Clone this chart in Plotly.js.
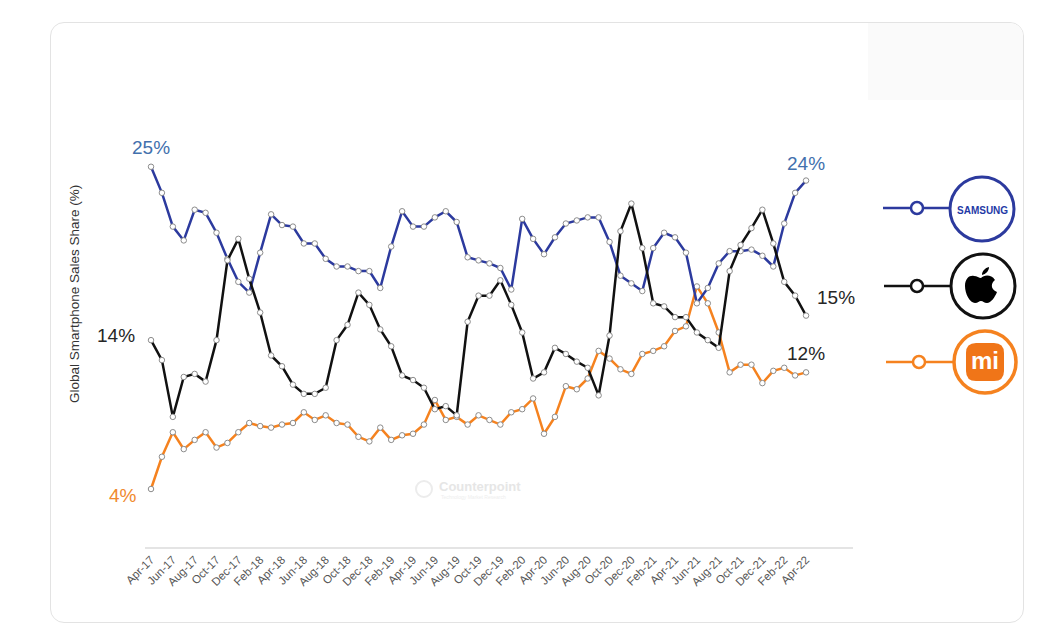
<!DOCTYPE html>
<html><head><meta charset="utf-8">
<script src="https://cdn.plot.ly/plotly-3.0.1.min.js"></script>
<style>
html,body{margin:0;padding:0;background:#ffffff;}
#card{position:absolute;left:50px;top:22px;width:974px;height:601px;border:1px solid #e3e3e3;border-radius:14px;background:#fff;box-sizing:border-box;}
#faint{position:absolute;left:868px;top:23px;width:155px;height:77px;background:#fafafa;border-top-right-radius:13px;}
#chart{position:absolute;left:0;top:0;width:1063px;height:642px;}
</style></head>
<body>
<div id="card"></div><div id="faint"></div>
<div id="chart"></div>
<script>
const months = ['Apr-17','May-17','Jun-17','Jul-17','Aug-17','Sep-17','Oct-17','Nov-17','Dec-17',
'Jan-18','Feb-18','Mar-18','Apr-18','May-18','Jun-18','Jul-18','Aug-18','Sep-18','Oct-18','Nov-18','Dec-18',
'Jan-19','Feb-19','Mar-19','Apr-19','May-19','Jun-19','Jul-19','Aug-19','Sep-19','Oct-19','Nov-19','Dec-19',
'Jan-20','Feb-20','Mar-20','Apr-20','May-20','Jun-20','Jul-20','Aug-20','Sep-20','Oct-20','Nov-20','Dec-20',
'Jan-21','Feb-21','Mar-21','Apr-21','May-21','Jun-21','Jul-21','Aug-21','Sep-21','Oct-21','Nov-21','Dec-21',
'Jan-22','Feb-22','Mar-22','Apr-22'];
const tickLabels = ['Apr-17','Jun-17','Aug-17','Oct-17','Dec-17','Feb-18','Apr-18','Jun-18','Aug-18','Oct-18','Dec-18',
'Feb-19','Apr-19','Jun-19','Aug-19','Oct-19','Dec-19','Feb-20','Apr-20','Jun-20','Aug-20','Oct-20','Dec-20',
'Feb-21','Apr-21','Jun-21','Aug-21','Oct-21','Dec-21','Feb-22','Apr-22'];
const samsung = [25.0,23.3,21.1,20.2,22.2,22.0,20.7,19.0,17.5,16.8,
19.4,21.9,21.2,21.1,20.0,20.0,19.0,18.5,18.5,18.2,
18.2,17.1,19.8,22.1,21.1,21.1,21.7,22.1,21.4,19.1,
18.9,18.7,18.4,17.0,21.6,20.3,19.3,20.4,21.3,21.5,
21.7,21.7,20.1,17.9,17.4,16.9,19.7,20.7,20.4,19.4,
16.1,17.1,18.7,19.5,19.5,19.6,19.2,18.5,21.3,23.3,24.1];
const apple = [13.7,12.4,8.7,11.3,11.5,11.0,13.7,18.9,20.3,17.7,
15.5,12.7,12.0,10.8,10.2,10.2,10.6,13.7,14.7,16.8,
16.0,14.4,13.3,11.4,11.1,10.6,9.2,9.4,8.8,14.9,
16.6,16.6,17.6,16.0,14.2,11.2,11.6,13.2,12.8,12.3,
11.9,10.1,14.0,20.8,22.6,19.7,16.1,15.9,15.2,15.2,
14.2,13.7,13.2,18.2,19.9,21.0,22.2,20.0,17.5,16.6,15.3];
const xiaomi = [4.0,6.1,7.7,6.6,7.2,7.7,6.7,7.0,7.7,8.3,
8.1,8.0,8.2,8.3,9.0,8.5,8.8,8.3,8.2,7.4,
7.1,8.0,7.2,7.5,7.6,8.2,9.8,8.5,8.7,8.2,
8.8,8.5,8.2,9.0,9.2,9.9,7.6,8.7,10.7,10.5,
11.2,13.0,12.5,11.8,11.5,12.8,13.0,13.3,14.3,14.6,
17.2,16.1,14.2,11.6,12.1,12.1,10.9,11.7,11.9,11.4,11.6];
const brands = ['SAMSUNG','Apple','Xiaomi'];
const endLabels = {startSamsung:'25%', startApple:'14%', startXiaomi:'4%', endSamsung:'24%', endApple:'15%', endXiaomi:'12%'};
const yTitle = 'Global Smartphone Sales Share (%)';

const C_SAM = '#2c3a9e', C_APL = '#111111', C_XIA = '#f5821f';
const FONT = 'Liberation Sans, Arial, Helvetica, sans-serif';

// plot-area geometry (pixels) to place decorations
const L = 145, T = 100, W = 708, H = 447;
const px = x => (x - L) / W;
const py = y => (T + H - y) / H;
function pathPx(str, ox, oy) {
  return str.replace(/(-?[\d.]+),(-?[\d.]+)/g, (m, a, b) =>
    px(ox + parseFloat(a)).toFixed(5) + ',' + py(oy + parseFloat(b)).toFixed(5));
}
function circ(cx, cy, r, color, width, fill) {
  return {type:'circle', xref:'paper', yref:'paper', x0:px(cx-r), x1:px(cx+r), y0:py(cy+r), y1:py(cy-r),
          line:{color:color, width:width}, fillcolor:fill, layer:'above'};
}
function hline(x0, x1, y, color) {
  return {type:'line', xref:'paper', yref:'paper', x0:px(x0), x1:px(x1), y0:py(y), y1:py(y),
          line:{color:color, width:2.5}, layer:'above'};
}

function trace(vals, color, name) {
  return {x: months, y: vals, name: name, type:'scatter', mode:'lines+markers',
    line:{color:color, width:2.5},
    marker:{size:5.5, color:'#ffffff', line:{color:'#8c8c8c', width:1}},
    hoverinfo:'skip', cliponaxis:false};
}
const data = [trace(xiaomi, C_XIA, brands[2]), trace(samsung, C_SAM, brands[0]), trace(apple, C_APL, brands[1])];

const appleGlyph = 'M 0,-8 C 3,-11 10,-12 14,-6 C 10,-3 9,3 16,6 C 14,11 10,17 6,17 C 3,17 2,15 0,15 C -2,15 -3,17 -6,17 C -11,17 -16,8 -16,0 C -16,-8 -11,-11 -7,-10 C -4,-10 -2,-8 0,-8 Z M 1,-11 C 1,-15 4,-18 8,-19 C 8,-15 5,-12 1,-11 Z';
const r = 10, h = 19;
const xiaSquare = `M ${-h+r},${-h} L ${h-r},${-h} Q ${h},${-h} ${h},${-h+r} L ${h},${h-r} Q ${h},${h} ${h-r},${h} L ${-h+r},${h} Q ${-h},${h} ${-h},${h-r} L ${-h},${-h+r} Q ${-h},${-h} ${-h+r},${-h} Z`;

const shapes = [
  hline(883, 950, 208, C_SAM), circ(917, 208, 6, C_SAM, 2.5, '#ffffff'), circ(982, 209, 32, C_SAM, 3, '#ffffff'),
  hline(884, 950, 286, C_APL), circ(917, 286, 6, C_APL, 2.5, '#ffffff'), circ(983, 286, 32, C_APL, 3, '#ffffff'),
  {type:'path', xref:'paper', yref:'paper', path: pathPx(appleGlyph, 981, 286), fillcolor:'#000000', line:{width:0}, layer:'above'},
  hline(886, 953, 362, C_XIA), circ(919, 362, 6, C_XIA, 2.5, '#ffffff'), circ(985, 362, 31, C_XIA, 3.5, '#ffffff'),
  {type:'path', xref:'paper', yref:'paper', path: pathPx(xiaSquare, 985, 362), fillcolor:'#f07518', line:{width:0}, layer:'above'},
  circ(424, 489, 8, '#ececec', 2, 'rgba(0,0,0,0)')
];

function ann(text, x, y, xanchor, color, size, extra) {
  return Object.assign({text:text, xref:'paper', yref:'paper', x:px(x), y:py(y), xanchor:xanchor, yanchor:'middle',
    showarrow:false, font:{family:FONT, size:size, color:color}}, extra || {});
}
const annotations = [
  ann(endLabels.startSamsung, 151, 147, 'center', '#4270ad', 19),
  ann(endLabels.startApple, 137, 335, 'right', '#262626', 19),
  ann(endLabels.startXiaomi, 139, 495, 'right', '#f08a2e', 19),
  ann(endLabels.endSamsung, 806, 163, 'center', '#4270ad', 19),
  ann(endLabels.endApple, 815, 297, 'left', '#262626', 19),
  ann(endLabels.endXiaomi, 806, 353, 'center', '#262626', 19),
  ann(yTitle, 74, 294, 'center', '#333333', 13.5, {textangle:-90}),
  ann('<b>' + brands[0] + '</b>', 982, 210, 'center', '#1f3aa6', 10),
  ann('<b>mi</b>', 985, 361, 'center', '#ffffff', 24),
  ann('<b>Counterpoint</b>', 437, 486, 'left', '#e6e6e6', 13),
  ann('Technology Market Research', 439, 497, 'left', '#eeeeee', 5)
];

const layout = {
  width:1063, height:642,
  margin:{l:L, r:1063-L-W, t:T, b:642-T-H, pad:0},
  paper_bgcolor:'rgba(0,0,0,0)', plot_bgcolor:'rgba(0,0,0,0)',
  showlegend:false, hovermode:false,
  font:{family:FONT},
  xaxis:{type:'category', range:[-0.55, 64.3], tickmode:'array', tickvals:tickLabels, ticktext:tickLabels,
    tickangle:-45, tickfont:{size:11.5, color:'#555555', family:FONT}, showgrid:false, zeroline:false,
    showline:true, linecolor:'#e4e4e4', linewidth:1.5, ticks:'', fixedrange:true},
  yaxis:{range:[0.22, 29.35], showticklabels:false, showgrid:false, zeroline:false, showline:false, ticks:'', fixedrange:true},
  shapes:shapes, annotations:annotations
};
Plotly.newPlot('chart', data, layout, {displayModeBar:false, staticPlot:true});
</script>
</body></html>
